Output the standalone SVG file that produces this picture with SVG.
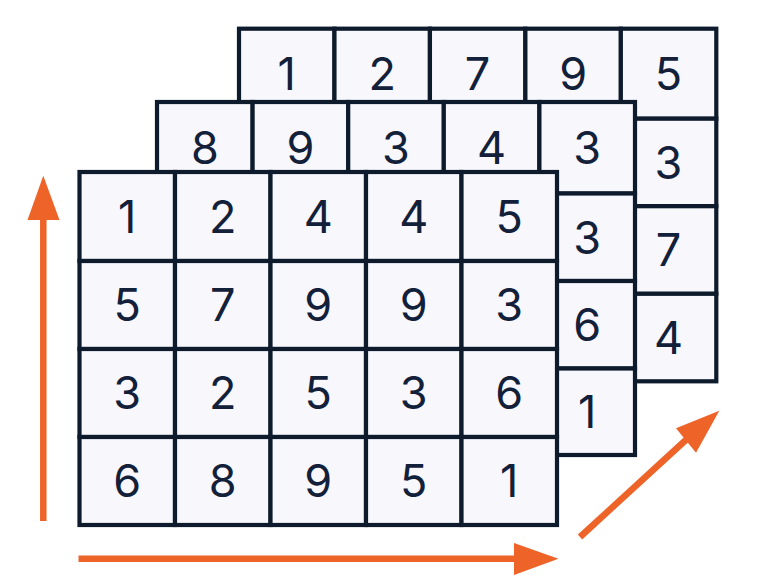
<svg xmlns="http://www.w3.org/2000/svg" width="764" height="582" viewBox="0 0 764 582">
<style>
.c{fill:#f7f7fc;stroke:#0e1b2d;stroke-width:4.2;stroke-linejoin:miter}
.t{font-family:Inter,"Noto Sans",sans-serif;font-size:45px;fill:#13203a;text-anchor:middle}
.a{stroke:#ee6328;stroke-width:6.5;fill:none}
.h{fill:#ee6328}
</style>
<rect width="764" height="582" fill="#ffffff"/>
<g id="back-grid">
<rect class="c" x="239" y="28.7" width="95.46" height="90"/><rect class="c" x="334.46" y="28.7" width="95.46" height="90"/><rect class="c" x="429.92" y="28.7" width="95.46" height="90"/><rect class="c" x="525.38" y="28.7" width="95.46" height="90"/><rect class="c" x="620.84" y="28.7" width="95.46" height="90"/>
<rect class="c" x="239" y="118.7" width="95.46" height="87.5"/><rect class="c" x="334.46" y="118.7" width="95.46" height="87.5"/><rect class="c" x="429.92" y="118.7" width="95.46" height="87.5"/><rect class="c" x="525.38" y="118.7" width="95.46" height="87.5"/><rect class="c" x="620.84" y="118.7" width="95.46" height="87.5"/>
<rect class="c" x="239" y="206.2" width="95.46" height="87.6"/><rect class="c" x="334.46" y="206.2" width="95.46" height="87.6"/><rect class="c" x="429.92" y="206.2" width="95.46" height="87.6"/><rect class="c" x="525.38" y="206.2" width="95.46" height="87.6"/><rect class="c" x="620.84" y="206.2" width="95.46" height="87.6"/>
<rect class="c" x="239" y="293.8" width="95.46" height="87.5"/><rect class="c" x="334.46" y="293.8" width="95.46" height="87.5"/><rect class="c" x="429.92" y="293.8" width="95.46" height="87.5"/><rect class="c" x="525.38" y="293.8" width="95.46" height="87.5"/><rect class="c" x="620.84" y="293.8" width="95.46" height="87.5"/>
<text class="t" x="286.7" y="90">1</text><text class="t" x="382.2" y="90">2</text><text class="t" x="477.6" y="90">7</text><text class="t" x="573.1" y="90">9</text><text class="t" x="668.5" y="90">5</text>
<text class="t" x="668.5" y="178.7">3</text><text class="t" x="668.5" y="266.2">7</text><text class="t" x="668.5" y="353.7">4</text>
</g>
<g id="middle-grid">
<rect class="c" x="157" y="102" width="95.6" height="91.5"/><rect class="c" x="252.6" y="102" width="95.6" height="91.5"/><rect class="c" x="348.2" y="102" width="95.6" height="91.5"/><rect class="c" x="443.8" y="102" width="95.6" height="91.5"/><rect class="c" x="539.4" y="102" width="95.6" height="91.5"/>
<rect class="c" x="157" y="193.5" width="95.6" height="87.5"/><rect class="c" x="252.6" y="193.5" width="95.6" height="87.5"/><rect class="c" x="348.2" y="193.5" width="95.6" height="87.5"/><rect class="c" x="443.8" y="193.5" width="95.6" height="87.5"/><rect class="c" x="539.4" y="193.5" width="95.6" height="87.5"/>
<rect class="c" x="157" y="281" width="95.6" height="87.5"/><rect class="c" x="252.6" y="281" width="95.6" height="87.5"/><rect class="c" x="348.2" y="281" width="95.6" height="87.5"/><rect class="c" x="443.8" y="281" width="95.6" height="87.5"/><rect class="c" x="539.4" y="281" width="95.6" height="87.5"/>
<rect class="c" x="157" y="368.5" width="95.6" height="86.5"/><rect class="c" x="252.6" y="368.5" width="95.6" height="86.5"/><rect class="c" x="348.2" y="368.5" width="95.6" height="86.5"/><rect class="c" x="443.8" y="368.5" width="95.6" height="86.5"/><rect class="c" x="539.4" y="368.5" width="95.6" height="86.5"/>
<text class="t" x="204.8" y="164">8</text><text class="t" x="300.4" y="164">9</text><text class="t" x="396" y="164">3</text><text class="t" x="491.6" y="164">4</text><text class="t" x="587.2" y="164">3</text>
<text class="t" x="587.2" y="253.5">3</text><text class="t" x="587.2" y="341">6</text><text class="t" x="587.2" y="428">1</text>
</g>
<g id="front-grid">
<rect class="c" x="79.5" y="172" width="95.5" height="89"/><rect class="c" x="175" y="172" width="95.5" height="89"/><rect class="c" x="270.5" y="172" width="95.5" height="89"/><rect class="c" x="366" y="172" width="95.5" height="89"/><rect class="c" x="461.5" y="172" width="95.5" height="89"/>
<rect class="c" x="79.5" y="261" width="95.5" height="88"/><rect class="c" x="175" y="261" width="95.5" height="88"/><rect class="c" x="270.5" y="261" width="95.5" height="88"/><rect class="c" x="366" y="261" width="95.5" height="88"/><rect class="c" x="461.5" y="261" width="95.5" height="88"/>
<rect class="c" x="79.5" y="349" width="95.5" height="88"/><rect class="c" x="175" y="349" width="95.5" height="88"/><rect class="c" x="270.5" y="349" width="95.5" height="88"/><rect class="c" x="366" y="349" width="95.5" height="88"/><rect class="c" x="461.5" y="349" width="95.5" height="88"/>
<rect class="c" x="79.5" y="437" width="95.5" height="88"/><rect class="c" x="175" y="437" width="95.5" height="88"/><rect class="c" x="270.5" y="437" width="95.5" height="88"/><rect class="c" x="366" y="437" width="95.5" height="88"/><rect class="c" x="461.5" y="437" width="95.5" height="88"/>
<text class="t" x="127.25" y="232.7">1</text><text class="t" x="222.75" y="232.7">2</text><text class="t" x="318.25" y="232.7">4</text><text class="t" x="413.75" y="232.7">4</text><text class="t" x="509.25" y="232.7">5</text>
<text class="t" x="127.25" y="321.2">5</text><text class="t" x="222.75" y="321.2">7</text><text class="t" x="318.25" y="321.2">9</text><text class="t" x="413.75" y="321.2">9</text><text class="t" x="509.25" y="321.2">3</text>
<text class="t" x="127.25" y="409.2">3</text><text class="t" x="222.75" y="409.2">2</text><text class="t" x="318.25" y="409.2">5</text><text class="t" x="413.75" y="409.2">3</text><text class="t" x="509.25" y="409.2">6</text>
<text class="t" x="127.25" y="497.2">6</text><text class="t" x="222.75" y="497.2">8</text><text class="t" x="318.25" y="497.2">9</text><text class="t" x="413.75" y="497.2">5</text><text class="t" x="509.25" y="497.2">1</text>
</g>
<g id="connectors">
<line class="a" x1="43.3" y1="521" x2="43.3" y2="215"/>
<polygon class="h" points="43.3,175.7 27.5,220 59.5,220"/>
<line class="a" x1="78.5" y1="558.7" x2="518" y2="558.7"/>
<polygon class="h" points="558.5,558.7 514,543 514,575"/>
<line class="a" x1="580" y1="537" x2="688" y2="438"/>
<polygon class="h" points="719.3,410.7 676,428.3 696,452.7"/>
</g>
</svg>
